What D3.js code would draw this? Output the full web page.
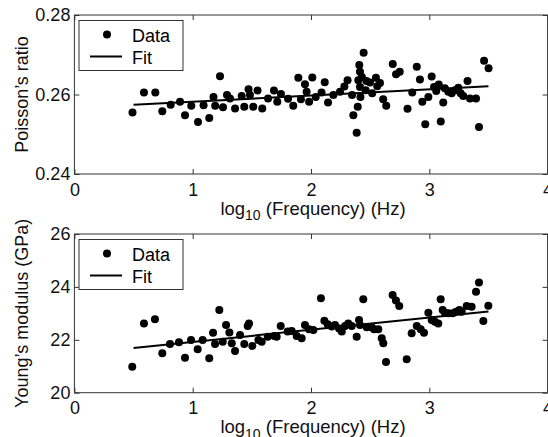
<!DOCTYPE html>
<html>
<head>
<meta charset="utf-8">
<script src="https://cdn.jsdelivr.net/npm/d3@7"></script>
<style>
  html, body { margin: 0; padding: 0; background: #fff; }
  svg { display: block; font-family: "Liberation Sans", Arial, Helvetica, sans-serif; }
  .tick text { font-size: 18px; fill: #111; }
  .tick line { stroke: #333; }
</style>
</head>
<body>
<div id="chart"></div>
<script>
const width = 548;
const height = 437;

// x axis (shared)
const xTicks = [0, 1, 2, 3, 4];
const fitX = [0.5, 3.5];

// top panel: Poisson's ratio
const poissonTicks = [0.24, 0.26, 0.28];
const poissonFreq = [0.491, 0.588, 0.684, 0.743, 0.814, 0.893, 0.935, 0.988, 1.045, 1.092,
  1.140, 1.176, 1.190, 1.231, 1.256, 1.290, 1.315, 1.358, 1.414, 1.436,
  1.472, 1.484, 1.512, 1.548, 1.588, 1.637, 1.687, 1.715, 1.746, 1.806,
  1.850, 1.893, 1.915, 1.949, 1.963, 1.984, 2.011, 2.040, 2.089, 2.116,
  2.144, 2.189, 2.245, 2.282, 2.309, 2.347, 2.358, 2.395, 2.386, 2.408,
  2.414, 2.430, 2.400, 2.445, 2.414, 2.418, 2.468, 2.499, 2.462, 2.517,
  2.549, 2.560, 2.583, 2.610, 2.636, 2.691, 2.719, 2.750, 2.816, 2.856,
  2.894, 2.921, 2.941, 2.966, 2.992, 3.020, 3.040, 3.059, 3.080, 3.097,
  3.118, 3.131, 3.161, 3.189, 3.217, 3.245, 3.265, 3.287, 3.323, 3.344,
  3.395, 3.420, 3.463, 3.501];
const poissonRatio = [0.2555, 0.2605, 0.2605, 0.2558, 0.2574, 0.2582, 0.2548, 0.2572, 0.2531, 0.2573,
  0.2541, 0.2594, 0.2572, 0.2646, 0.2568, 0.2599, 0.2590, 0.2565, 0.2596, 0.2569,
  0.2613, 0.2599, 0.2569, 0.2610, 0.2565, 0.2590, 0.2610, 0.2582, 0.2601, 0.2589,
  0.2572, 0.2642, 0.2588, 0.2626, 0.2607, 0.2582, 0.2643, 0.2594, 0.2605, 0.2631,
  0.2580, 0.2599, 0.2607, 0.2620, 0.2636, 0.2599, 0.2548, 0.2569, 0.2504, 0.2674,
  0.2657, 0.2644, 0.2636, 0.2705, 0.2619, 0.2594, 0.2634, 0.2630, 0.2611, 0.2603,
  0.2642, 0.2621, 0.2629, 0.2588, 0.2572, 0.2677, 0.2651, 0.2657, 0.2564, 0.2605,
  0.2670, 0.2638, 0.2582, 0.2525, 0.2594, 0.2645, 0.2619, 0.2609, 0.2625, 0.2532,
  0.2580, 0.2616, 0.2607, 0.2603, 0.2611, 0.2617, 0.2603, 0.2596, 0.2634, 0.2590,
  0.2590, 0.2518, 0.2685, 0.2666];
const poissonFit = [0.2574, 0.2621];

// bottom panel: Young's modulus
const youngsTicks = [20, 22, 24, 26];
const youngsFreq = [0.489, 0.588, 0.681, 0.743, 0.808, 0.884, 0.935, 0.986, 1.042, 1.084,
  1.140, 1.172, 1.189, 1.225, 1.254, 1.282, 1.310, 1.330, 1.358, 1.400,
  1.436, 1.465, 1.476, 1.504, 1.555, 1.583, 1.634, 1.690, 1.710, 1.744,
  1.803, 1.837, 1.879, 1.921, 1.949, 1.983, 2.020, 2.084, 2.113, 2.141,
  2.175, 2.203, 2.237, 2.260, 2.288, 2.315, 2.344, 2.386, 2.406, 2.414,
  2.442, 2.471, 2.513, 2.533, 2.569, 2.598, 2.611, 2.634, 2.690, 2.718,
  2.746, 2.809, 2.851, 2.894, 2.927, 2.955, 2.992, 3.020, 3.048, 3.076,
  3.096, 3.113, 3.132, 3.161, 3.198, 3.226, 3.254, 3.274, 3.316, 3.358,
  3.395, 3.420, 3.457, 3.499];
const youngsModulus = [20.98, 22.62, 22.78, 21.49, 21.84, 21.91, 21.32, 21.99, 21.64, 21.99,
  21.30, 22.27, 21.84, 23.13, 21.93, 22.56, 22.28, 21.87, 21.58, 22.18,
  21.84, 22.52, 22.62, 21.77, 21.99, 21.93, 22.12, 22.14, 22.12, 22.52,
  22.31, 22.33, 22.14, 22.06, 22.56, 22.40, 22.37, 23.57, 22.72, 22.59,
  22.50, 22.56, 22.43, 22.31, 22.52, 22.62, 22.52, 22.12, 22.75, 22.56,
  23.53, 22.47, 22.47, 22.40, 22.40, 22.06, 21.87, 21.16, 23.69, 23.49,
  23.28, 21.26, 22.25, 22.52, 22.40, 22.27, 23.02, 22.75, 22.68, 22.62,
  23.53, 23.13, 23.02, 23.00, 23.00, 23.06, 23.13, 23.06, 23.28, 23.25,
  23.82, 24.17, 22.71, 23.29];
const youngsFit = [21.69, 23.07];

const svg = d3.select("#chart")
  .append("svg")
  .attr("width", width)
  .attr("height", height);

const x = d3.scaleLinear().domain([0, 4]).range([74.4, 547.6]);

function drawPanel(top, bottom, ticks, fmt, xs, ys, fitY, label) {
  const y = d3.scaleLinear().domain([ticks[0], ticks[ticks.length - 1]]).range([bottom, top]);
  const g = svg.append("g");

  // ticks on all four sides, pointing in
  g.append("g")
    .attr("transform", `translate(0,${bottom})`)
    .call(d3.axisBottom(x).tickValues(xTicks).tickFormat(d3.format("d"))
      .tickSizeInner(-5).tickSizeOuter(0).tickPadding(9));
  g.append("g")
    .attr("transform", `translate(0,${top})`)
    .call(d3.axisTop(x).tickValues(xTicks).tickFormat("").tickSizeInner(-5).tickSizeOuter(0));
  g.append("g")
    .attr("transform", `translate(${x.range()[0]},0)`)
    .call(d3.axisLeft(y).tickValues(ticks).tickFormat(fmt)
      .tickSizeInner(-5).tickSizeOuter(0).tickPadding(4));
  g.append("g")
    .attr("transform", `translate(${x.range()[1]},0)`)
    .call(d3.axisRight(y).tickValues(ticks).tickFormat("").tickSizeInner(-5).tickSizeOuter(0));
  g.selectAll(".domain").remove();
  g.selectAll(".tick text").attr("font-size", null).attr("font-family", null);

  // frame
  g.append("rect")
    .attr("x", x.range()[0])
    .attr("y", top)
    .attr("width", x.range()[1] - x.range()[0])
    .attr("height", bottom - top)
    .attr("fill", "none")
    .attr("stroke", "#333")
    .attr("stroke-width", 1);

  // data points
  g.selectAll("circle.pt")
    .data(xs.map((d, i) => [d, ys[i]]))
    .enter()
    .append("circle")
    .attr("class", "pt")
    .attr("cx", d => x(d[0]))
    .attr("cy", d => y(d[1]))
    .attr("r", 4)
    .attr("fill", "#000");

  // fit line
  g.append("path")
    .datum(fitX.map((d, i) => [d, fitY[i]]))
    .attr("fill", "none")
    .attr("stroke", "#000")
    .attr("stroke-width", 2)
    .attr("d", d3.line().x(d => x(d[0])).y(d => y(d[1])));

  // legend
  const lg = g.append("g").attr("transform", `translate(79,${top + 5.5})`);
  lg.append("rect")
    .attr("width", 104).attr("height", 50)
    .attr("fill", "#fff").attr("stroke", "#333").attr("stroke-width", 1);
  lg.append("circle").attr("cx", 28).attr("cy", 14).attr("r", 4).attr("fill", "#000");
  lg.append("text").attr("x", 53).attr("y", 21).attr("font-size", 18).text("Data");
  lg.append("line").attr("x1", 11).attr("x2", 43).attr("y1", 36).attr("y2", 36)
    .attr("stroke", "#000").attr("stroke-width", 2);
  lg.append("text").attr("x", 53).attr("y", 43).attr("font-size", 18).text("Fit");

  // x title
  const xt = g.append("text")
    .attr("x", 313)
    .attr("y", bottom + 40.5)
    .attr("text-anchor", "middle")
    .attr("font-size", 18.5)
    .attr("fill", "#111");
  xt.append("tspan").text("log");
  xt.append("tspan").attr("font-size", 14).attr("dy", 5.5).text("10");
  xt.append("tspan").attr("dy", -5.5).text(" (Frequency) (Hz)");

  // y title
  g.append("text")
    .attr("transform", `translate(28,${(top + bottom) / 2}) rotate(-90)`)
    .attr("text-anchor", "middle")
    .attr("font-size", 18)
    .attr("fill", "#111")
    .text(label);
}

drawPanel(15, 174, poissonTicks, d3.format(".2f"), poissonFreq, poissonRatio, poissonFit, "Poisson\u2019s ratio");
drawPanel(234, 392.7, youngsTicks, d3.format("d"), youngsFreq, youngsModulus, youngsFit, "Young\u2019s modulus (GPa)");
</script>
</body>
</html>
